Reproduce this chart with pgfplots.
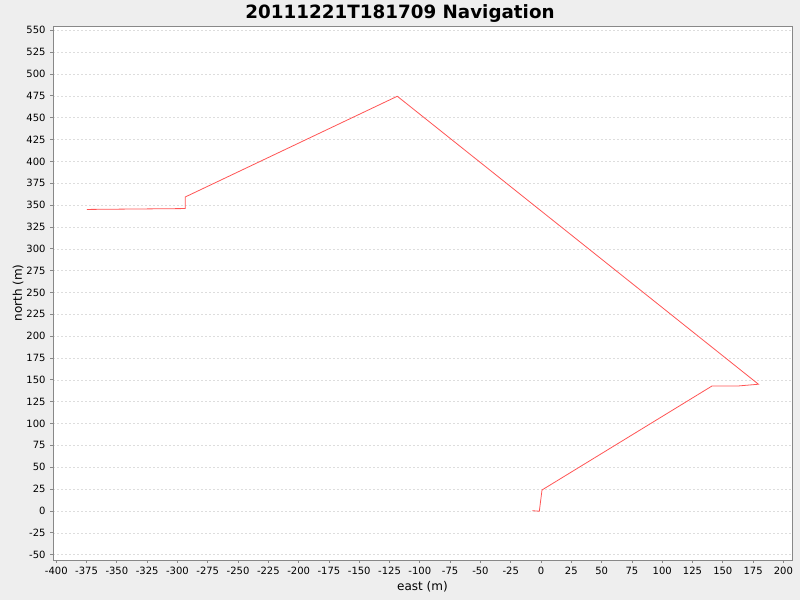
\documentclass[border=0pt]{standalone}
\usepackage{pgfplots}
\pgfplotsset{compat=1.18}
\usepackage{fontspec}
\setmainfont{DejaVu Sans}
\definecolor{bgc}{HTML}{EEEEEE}
\definecolor{linec}{HTML}{FF5555}
\definecolor{gridc}{HTML}{DDDDDD}
\definecolor{axc}{HTML}{888888}
\begin{document}
\begin{tikzpicture}[x=1bp,y=1bp]
\fill[bgc] (0,0) rectangle (800,600);
\useasboundingbox (0,0) rectangle (800,600);
\begin{axis}[
  at={(53bp,40bp)}, anchor=south west,
  scale only axis, width=739bp, height=534bp,
  xmin=-402.7, xmax=207.1, ymin=-56.1, ymax=554.9,
  xtick={-400,-375,...,200}, ytick={-50,-25,...,550},
  axis background/.style={fill=white},
  axis line style={axc, line width=0.8bp},
  tick style={axc, line width=0.8bp},
  tick align=outside, major tick length=3bp,
  xtick pos=bottom, ytick pos=left,
  ymajorgrids, xmajorgrids=false,
  major grid style={gridc, dash pattern=on 2bp off 2bp, line width=0.5bp},
  /pgf/number format/assume math mode=true,
  /pgf/number format/.cd, 1000 sep={}, fixed,
  /pgfplots/.cd,
  tick label style={font=\fontsize{10bp}{12bp}\selectfont, text=black},
  xticklabel style={yshift=-1bp},
  yticklabel style={xshift=-1bp},
]
\addplot[linec, line width=0.8bp, mark=none] coordinates {
(-7.2,0.3) (-1.4,-0.3) (0.8,24) (141.1,143) (162.6,143) (179.4,145)
(-118.6,474.5) (-293.5,359.3) (-293.5,346) (-374.7,345)
};
\end{axis}
\node[font=\fontsize{18.3bp}{21bp}\selectfont\bfseries] at (400,586.5) {20111221T181709 Navigation};
\node[font=\fontsize{12bp}{14bp}\selectfont] at (422.5,13.5) {east (m)};
\node[font=\fontsize{12bp}{14bp}\selectfont, rotate=90] at (18,307) {north (m)};
\end{tikzpicture}
\end{document}
